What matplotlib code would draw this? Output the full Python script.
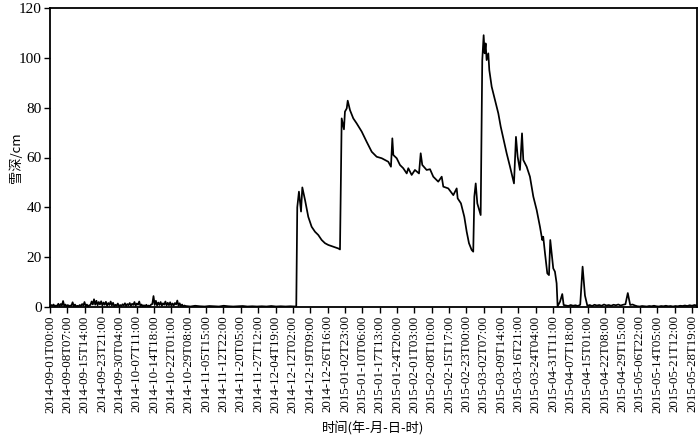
import numpy as np
import matplotlib
matplotlib.use("Agg")
import matplotlib.pyplot as plt

# Snow depth record, one sample per hour; x axis = record number (hours)
# Early autumn noise, one value every 12 hours from record 0
early_step = 12
early_depth = [0.3, 0.8, 0.5, 1.0, 0.2, 0.6, 0.4, 1.3, 0.3, 1.2, 0.6, 2.4, 0.4, 1.0,
               0.2, 0.8, 0.3, 0.6, 0.5, 1.9, 0.3, 1.0, 0.2, 0.5, 0.3, 0.8, 0.4, 1.2,
               0.6, 2.0, 0.3, 1.0, 0.2, 0.7, 0.8, 2.2, 1.0, 3.1, 0.9, 2.5, 0.7, 2.0,
               1.0, 2.3, 0.6, 1.8, 0.9, 2.1, 0.5, 1.6, 0.8, 2.2, 0.6, 1.7, 0.3, 0.9,
               0.5, 1.4, 0.2, 0.8, 0.4, 1.1, 0.6, 1.5, 0.4, 1.2, 0.7, 1.6, 0.5, 1.3,
               0.8, 2.0, 0.5, 1.4, 0.9, 2.2, 0.4, 1.0, 0.2, 0.7, 0.3, 0.9, 0.2, 0.6,
               0.3, 1.0, 1.2, 4.4, 0.8, 2.5, 0.6, 1.8, 0.8, 2.0, 0.5, 1.5, 0.9, 2.2,
               0.6, 1.7, 0.7, 1.9, 0.5, 1.4, 0.6, 1.6, 1.0, 2.6, 0.5, 1.5, 0.3, 1.0,
               0.2, 0.6]

# Quiet period before the first snowfall, one value every 48 hours
quiet_start = 1368
quiet_step = 48
quiet_depth = [0.4, 0.2, 0.5, 0.3, 0.2, 0.4, 0.3, 0.2, 0.5, 0.3, 0.2, 0.3,
               0.4, 0.2, 0.3, 0.2, 0.3, 0.2, 0.4, 0.2, 0.3, 0.2, 0.3, 0.2]

# Snow season, irregular samples (record number, depth in cm)
season_hour = [2484, 2494, 2511, 2532, 2545, 2572, 2605, 2639, 2673, 2706, 2740, 2774,
               2807, 2857, 2908, 2925, 2942, 2965, 2975, 2993, 3003, 3026, 3059, 3093,
               3144, 3194, 3245, 3295, 3346, 3412, 3439, 3453, 3463, 3497, 3530, 3563,
               3598, 3614, 3648, 3681, 3722, 3739, 3755, 3799, 3833, 3866, 3916, 3951,
               3967, 4017, 4068, 4102, 4112, 4145, 4179, 4203, 4226, 4253, 4269, 4280,
               4294, 4310, 4344, 4360, 4374, 4384, 4394, 4404, 4421, 4431, 4455, 4488,
               4522, 4546, 4572, 4606, 4640, 4680, 4700, 4717, 4740, 4761, 4774, 4808,
               4841, 4875, 4909, 4942, 4965, 4975, 4993, 5016, 5033, 5046, 5060, 5076,
               5093, 5110, 5120, 5144, 5167, 5181]
season_depth = [0.3, 40.0, 46.3, 38.3, 48.0, 43.0, 36.2, 32.2, 30.2, 28.9, 26.9, 25.6,
                24.9, 24.2, 23.5, 23.1, 75.7, 71.3, 78.4, 79.7, 82.8, 79.0, 75.7, 73.7,
                70.4, 66.3, 62.3, 60.3, 59.7, 58.3, 56.3, 67.7, 61.0, 59.7, 57.0, 55.7,
                53.6, 55.7, 53.0, 55.0, 53.6, 61.7, 57.0, 55.0, 55.3, 52.3, 50.3, 52.3,
                48.3, 47.6, 44.9, 47.6, 43.6, 41.6, 36.2, 30.2, 25.6, 22.9, 22.2, 44.3,
                49.6, 41.6, 36.9, 99.0, 109.1, 101.8, 105.8, 99.1, 101.8, 95.1, 88.4, 83.1,
                77.7, 72.4, 67.7, 61.7, 56.3, 49.6, 68.3, 60.3, 55.0, 69.7, 59.0, 56.3,
                52.3, 44.3, 38.9, 32.2, 26.9, 28.2, 21.5, 13.5, 12.8, 26.9, 21.5, 15.5,
                14.2, 9.5, 0.3, 2.1, 5.2, 0.8]

# After melt-out, one value every 24 hours
late_start = 5204
late_step = 24
late_depth = [0.6, 0.4, 0.8, 0.5, 0.7, 0.4, 0.9, 16.2, 4.6, 0.5, 0.8, 0.4, 0.9, 0.6,
              0.8, 0.5, 1.0, 0.6, 0.8, 0.5, 0.9, 0.7, 1.0, 0.6, 0.9, 1.1, 5.6, 0.8,
              1.0, 0.6, 0.3, 0.2, 0.4, 0.3, 0.2, 0.4, 0.3, 0.5, 0.3, 0.2, 0.4, 0.3,
              0.5, 0.3, 0.4, 0.2, 0.4, 0.3, 0.5, 0.4, 0.6, 0.4, 0.7, 0.5, 0.8, 0.6]

# tick labels, one every 175 records (as printed on the original)
tick_labels = ["2014-09-01T00:00", "2014-09-08T07:00", "2014-09-15T14:00", "2014-09-23T21:00",
               "2014-09-30T04:00", "2014-10-07T11:00", "2014-10-14T18:00", "2014-10-22T01:00",
               "2014-10-29T08:00", "2014-11-05T15:00", "2014-11-12T22:00", "2014-11-20T05:00",
               "2014-11-27T12:00", "2014-12-04T19:00", "2014-12-12T02:00", "2014-12-19T09:00",
               "2014-12-26T16:00", "2015-01-02T23:00", "2015-01-10T06:00", "2015-01-17T13:00",
               "2015-01-24T20:00", "2015-02-01T03:00", "2015-02-08T10:00", "2015-02-15T17:00",
               "2015-02-23T00:00", "2015-03-02T07:00", "2015-03-09T14:00", "2015-03-16T21:00",
               "2015-03-24T04:00", "2015-04-31T11:00", "2015-04-07T18:00", "2015-04-15T01:00",
               "2015-04-22T08:00", "2015-04-29T15:00", "2015-05-06T22:00", "2015-05-14T05:00",
               "2015-05-21T12:00", "2015-05-28T19:00"]
tick_step = 175

# Build the full series
hours = np.concatenate([
    np.arange(len(early_depth)) * early_step,
    quiet_start + np.arange(len(quiet_depth)) * quiet_step,
    np.array(season_hour),
    late_start + np.arange(len(late_depth)) * late_step,
])
depth = np.concatenate([early_depth, quiet_depth, season_depth, late_depth])

serif = ["Liberation Serif", "Noto Sans CJK SC"]
cjk = ["Noto Sans CJK SC", "Liberation Serif"]

fig = plt.figure(figsize=(7, 4.38), dpi=100)
ax = fig.add_axes([50 / 700, 1 - 307 / 438, 647 / 700, 299 / 438])

ax.plot(hours, depth, color="black", linewidth=1.25)

ax.set_xlim(0, 6526)
ax.set_ylim(0, 120)
ax.set_yticks(np.arange(0, 121, 20))
ax.set_xticks(np.arange(len(tick_labels)) * tick_step)
ax.set_xticklabels(tick_labels, rotation=90, family=serif, fontsize=9.3)
for lbl in ax.get_yticklabels():
    lbl.set_family(serif)
    lbl.set_fontsize(11)

ax.tick_params(direction="out", length=4, width=1.0, pad=2)
for sp in ax.spines.values():
    sp.set_linewidth(1.3)

ax.set_ylabel("雪深/cm", family=cjk, fontsize=9.5)
ax.yaxis.set_label_coords(-0.042, 0.5)
ax.set_xlabel("时间(年-月-日-时)", family=cjk, fontsize=9.5, labelpad=6)

fig.savefig("out.png", dpi=100)
